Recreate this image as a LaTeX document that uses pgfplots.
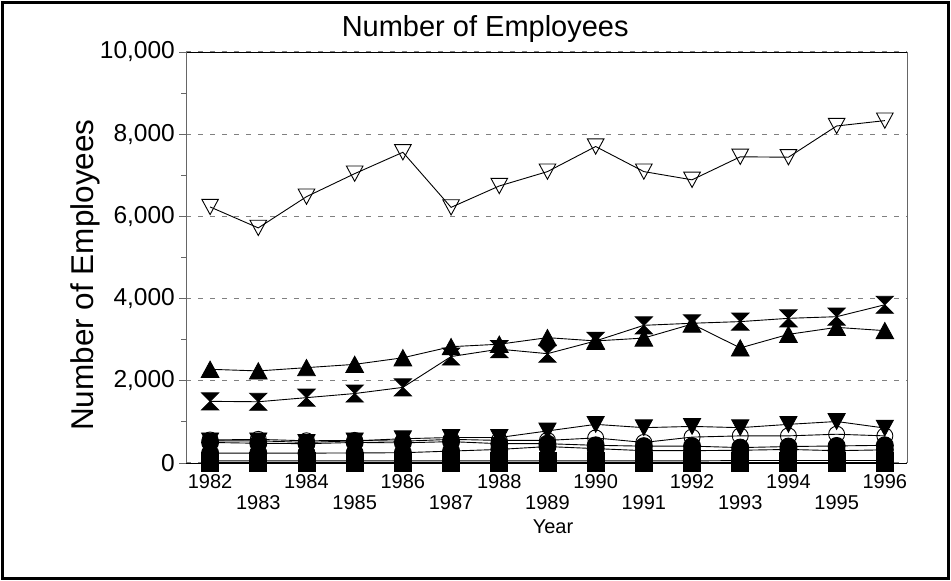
\documentclass[border=0pt]{standalone}
\usepackage{fontspec}
\setmainfont{Liberation Sans}
\usepackage{pgfplots}
\pgfplotsset{compat=1.18}
\pgfdeclareplotmark{hourglass}{%
 \pgfpathmoveto{\pgfqpoint{-\pgfplotmarksize}{\pgfplotmarksize}}%
 \pgfpathlineto{\pgfqpoint{\pgfplotmarksize}{\pgfplotmarksize}}%
 \pgfpathlineto{\pgfqpoint{-\pgfplotmarksize}{-\pgfplotmarksize}}%
 \pgfpathlineto{\pgfqpoint{\pgfplotmarksize}{-\pgfplotmarksize}}%
 \pgfpathclose\pgfusepathqfillstroke}
\pgfdeclareplotmark{tridown}{%
 \pgfpathmoveto{\pgfqpoint{-\pgfplotmarksize}{0.92\pgfplotmarksize}}%
 \pgfpathlineto{\pgfqpoint{\pgfplotmarksize}{0.92\pgfplotmarksize}}%
 \pgfpathlineto{\pgfqpoint{0pt}{-0.92\pgfplotmarksize}}%
 \pgfpathclose\pgfusepathqfillstroke}
\pgfdeclareplotmark{tridownopen}{%
 \pgfpathmoveto{\pgfqpoint{-\pgfplotmarksize}{0.92\pgfplotmarksize}}%
 \pgfpathlineto{\pgfqpoint{\pgfplotmarksize}{0.92\pgfplotmarksize}}%
 \pgfpathlineto{\pgfqpoint{0pt}{-0.92\pgfplotmarksize}}%
 \pgfpathclose\pgfusepathqstroke}
\pgfdeclareplotmark{triup}{%
 \pgfpathmoveto{\pgfqpoint{-\pgfplotmarksize}{-0.92\pgfplotmarksize}}%
 \pgfpathlineto{\pgfqpoint{\pgfplotmarksize}{-0.92\pgfplotmarksize}}%
 \pgfpathlineto{\pgfqpoint{0pt}{0.92\pgfplotmarksize}}%
 \pgfpathclose\pgfusepathqfillstroke}
\begin{document}
\begin{tikzpicture}[x=1pt,y=1pt]
\path[use as bounding box] (0,0) rectangle (951,581);
\draw[line width=3.5pt] (2.5,2.5) rectangle (948.5,578.5);
\begin{axis}[
  at={(186pt,118pt)}, anchor=south west,
  scale only axis, width=721pt, height=411pt,
  xmin=1981.5, xmax=1996.46, ymin=0, ymax=10000,
  axis line style={black, line width=0.8pt},
  separate axis lines,
  y axis line style={draw=gray!80!black},
  xtick={1982,1984,...,1996},
  extra x ticks={1983,1985,...,1995},
  extra x tick style={xticklabel style={yshift=-21pt}},
  x tick label style={/pgf/number format/1000 sep={}, font=\fontsize{20}{22}\selectfont, inner sep=0pt, anchor=north, yshift=-4pt},
  xtick style={draw=none},
  ytick={0,2000,...,10000},
  minor ytick={1000,3000,...,9000},
  scaled y ticks=false,
  y tick label style={font=\fontsize{24.5}{26}\selectfont, inner sep=0pt, xshift=-4pt},
  /pgf/number format/.cd, 1000 sep={,}, assume math mode=true, /pgfplots/.cd,
  ytick pos=left, xtick pos=bottom,
  tick align=outside,
  major tick length=7pt, minor tick length=5pt,
  ytick style={draw=gray!80!black, line width=0.8pt},
  ymajorgrids,
  major grid style={gray, dash pattern=on 5pt off 7pt, line width=1.3pt},
  title={Number of Employees},
  title style={font=\fontsize{29}{32}\selectfont, at={(axis description cs:0.415,1.0)}, anchor=south, inner sep=0pt, yshift=3pt},
  ylabel={Number of Employees},
  every axis y label/.style={at={(axis description cs:-0.14,0.457)}, rotate=90, anchor=center, font=\fontsize{31.5}{34}\selectfont},
  xlabel={Year},
  every axis x label/.style={at={(axis description cs:0.509,-0.156)}, anchor=center, font=\fontsize{20}{22}\selectfont},
  every axis plot/.append style={black, line width=0.9pt},
  clip=false,
]
% open circles
\addplot[mark=o, mark size=8pt, mark options={line width=0.9pt}] coordinates {
(1982,560)(1983,575)(1984,540)(1985,550)(1986,530)(1987,575)(1988,550)(1989,550)(1990,610)(1991,500)(1992,630)(1993,660)(1994,660)(1995,700)(1996,660)};
% filled circles b
\addplot[mark=*, mark size=8.5pt, mark options={fill=black}] coordinates {
(1982,240)(1983,240)(1984,240)(1985,245)(1986,250)(1987,290)(1988,330)(1989,400)(1990,350)(1991,300)(1992,300)(1993,310)(1994,330)(1995,300)(1996,320)};
% filled circles a
\addplot[mark=*, mark size=8.5pt, mark options={fill=black}] coordinates {
(1982,500)(1983,480)(1984,470)(1985,500)(1986,490)(1987,520)(1988,470)(1989,470)(1990,430)(1991,410)(1992,410)(1993,375)(1994,400)(1995,415)(1996,430)};
% filled down triangles
\addplot[mark=tridown, mark size=8.5pt, mark options={fill=black}] coordinates {
(1982,540)(1983,540)(1984,500)(1985,540)(1986,590)(1987,620)(1988,620)(1989,780)(1990,940)(1991,860)(1992,890)(1993,860)(1994,940)(1995,1010)(1996,850)};
% squares
\addplot[mark=square*, mark size=8.5pt, mark options={fill=black}] coordinates {
(1982,50)(1983,50)(1984,50)(1985,50)(1986,50)(1987,50)(1988,50)(1989,50)(1990,50)(1991,50)(1992,50)(1993,60)(1994,60)(1995,60)(1996,60)};
\addplot[mark=square*, mark size=8.5pt, mark options={fill=black}] coordinates {
(1982,10)(1983,10)(1984,10)(1985,10)(1986,10)(1987,10)(1988,10)(1989,10)(1990,10)(1991,10)(1992,10)(1993,10)(1994,10)(1995,10)(1996,10)};
% filled up triangles
\addplot[mark=triup, mark size=8.8pt, mark options={fill=black}] coordinates {
(1982,2280)(1983,2240)(1984,2320)(1985,2400)(1986,2560)(1987,2830)(1988,2890)(1989,3050)(1990,2970)(1991,3040)(1992,3380)(1993,2800)(1994,3130)(1995,3300)(1996,3220)};
% hourglass
\addplot[mark=hourglass, mark size=8.5pt, mark options={fill=black}] coordinates {
(1982,1500)(1983,1490)(1984,1590)(1985,1690)(1986,1840)(1987,2590)(1988,2770)(1989,2660)(1990,2970)(1991,3350)(1992,3400)(1993,3440)(1994,3520)(1995,3560)(1996,3850)};
% open down triangles
\addplot[mark=tridownopen, mark size=8.3pt, mark options={line width=0.9pt}] coordinates {
(1982,6230)(1983,5720)(1984,6480)(1985,7040)(1986,7560)(1987,6220)(1988,6740)(1989,7090)(1990,7700)(1991,7090)(1992,6890)(1993,7450)(1994,7440)(1995,8200)(1996,8330)};
\end{axis}
\end{tikzpicture}
\end{document}
